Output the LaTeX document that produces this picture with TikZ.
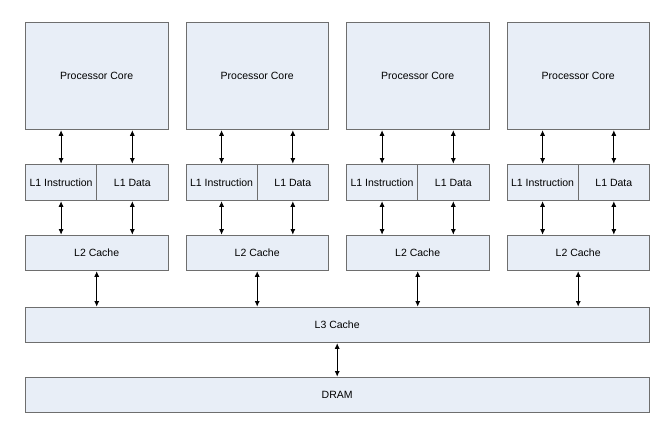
\documentclass[tikz,border=0pt]{standalone}
\usepackage{fontspec}
\setmainfont{Liberation Sans}
\usetikzlibrary{arrows.meta}
\definecolor{boxfill}{HTML}{E8EEF7}
\definecolor{boxline}{HTML}{6E6E6E}
\tikzset{
  blk/.style={draw=boxline, fill=boxfill, line width=0.9pt, rectangle, inner sep=0pt, anchor=north west, font=\fontsize{10.5}{12}\selectfont},
  arr/.style={{Latex[length=5.5pt,width=5pt]}-{Latex[length=5.5pt,width=5pt]}, line width=0.7pt, black, shorten <=0.4pt, shorten >=0.4pt}
}
\begin{document}
\begin{tikzpicture}[x=1pt,y=-1pt]
\useasboundingbox (0,0) rectangle (670,430);
\foreach \i in {1,2,3,4}{
  \pgfmathsetmacro{\xl}{25+160.5*(\i-1)}
  \node[blk, minimum width=142.5pt, minimum height=107pt] (core\i) at (\xl,22) {Processor Core};
  \node[blk, minimum width=71.25pt, minimum height=36pt] (li\i) at (\xl,164) {L1 Instruction};
  \node[blk, minimum width=71.25pt, minimum height=36pt] (ld\i) at (\xl+71.25,164) {L1 Data};
  \node[blk, minimum width=142.5pt, minimum height=35pt] (ltwo\i) at (\xl,235) {L2 Cache};
}
\node[blk, minimum width=623.5pt, minimum height=35pt] (lthree) at (25,307) {L3 Cache};
\node[blk, minimum width=623.5pt, minimum height=35pt] (dram) at (25,377) {DRAM};
\foreach \i in {1,2,3,4}{
  \draw[arr] (core\i.south -| li\i.north) -- (li\i.north);
  \draw[arr] (core\i.south -| ld\i.north) -- (ld\i.north);
  \draw[arr] (li\i.south) -- (li\i.south |- ltwo\i.north);
  \draw[arr] (ld\i.south) -- (ld\i.south |- ltwo\i.north);
  \draw[arr] (ltwo\i.south) -- (ltwo\i.south |- lthree.north);
}
\draw[arr] (lthree.south) -- (dram.north);
\end{tikzpicture}
\end{document}
